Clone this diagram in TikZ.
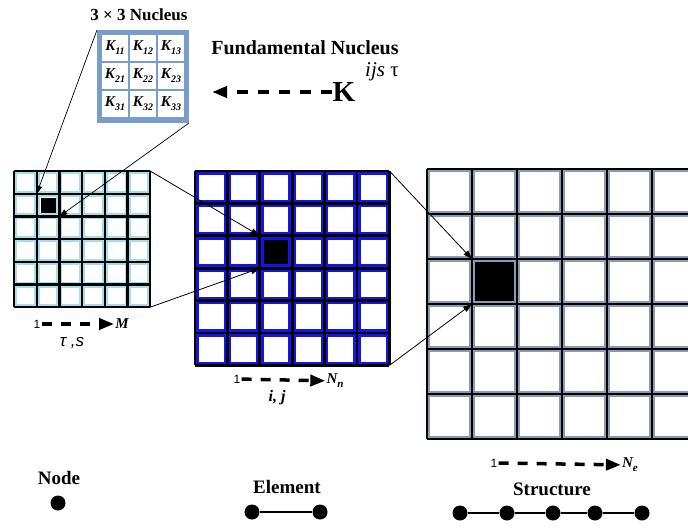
\documentclass[tikz,border=0pt]{standalone}
\usepackage{fontspec}
\setmainfont{Liberation Serif}
\newfontfamily\labelsans{Liberation Sans}
\usetikzlibrary{arrows.meta}

\definecolor{meshcyan}{HTML}{A6DDE9}
\definecolor{meshblue}{HTML}{1414E6}
\definecolor{meshgrey}{HTML}{8A9AB0}
\definecolor{nucblue}{HTML}{7A9CCB}

% 6x6 mesh: #1,#2 top left, #3 cell, #4 border colour, #5 inset, #6 line width
\newcommand{\meshgrid}[6]{%
  \foreach \i in {0,...,5}{
    \foreach \j in {0,...,5}{
      \fill[#4] ({#1+\i*#3},{#2+\j*#3}) rectangle ++(#3,#3);
      \fill[white] ({#1+\i*#3+#5},{#2+\j*#3+#5}) rectangle ({#1+(\i+1)*#3-#5},{#2+(\j+1)*#3-#5});
    }
  }
  \foreach \k in {0,...,6}{
    \draw[line width=#6] ({#1+\k*#3},#2) -- ({#1+\k*#3},{#2+6*#3});
    \draw[line width=#6] (#1,{#2+\k*#3}) -- ({#1+6*#3},{#2+\k*#3});
  }
}
\newcommand{\Kent}[1]{\textbf{\textit{K\raisebox{-4pt}{\fontsize{10}{10}\selectfont#1}}}}

\begin{document}
\begin{tikzpicture}[
    x=1pt, y=-1pt,
    title_style/.style={font=\bfseries\fontsize{19}{22}\selectfont, inner sep=1pt},
    kcell_style/.style={fill=white, minimum size=26pt, inner sep=0, font=\fontsize{15}{16}\selectfont},
    one_style/.style={font=\labelsans\fontsize{12}{14}\selectfont, inner sep=1pt},
    idx_style/.style={font=\bfseries\itshape\fontsize{15}{16}\selectfont, inner sep=1pt},
    spot_style/.style={inner sep=0, outer sep=0},
    dot_style/.style={circle, fill, inner sep=0, minimum size=15pt},
    dash_arrow/.style={line width=3.5pt, dash pattern=on 10pt off 9pt, -{Triangle[length=15pt,width=11pt]}},
    link_style/.style={line width=0.8pt, -{Triangle[length=9pt,width=6pt]}},
    bar_style/.style={line width=2.5pt}
  ]
  \useasboundingbox (0,0) rectangle (688,530);

  % nucleus
  \node[title_style, font=\bfseries\fontsize{17}{20}\selectfont] (nuctitle) at (139,15) {3 × 3 Nucleus};
  \node[fill=nucblue, minimum width=92pt, minimum height=93pt, inner sep=0, outer sep=0] (nuc) at (143,76.5) {};
  \foreach \r/\y in {1/48,2/76,3/104}{
    \foreach \c/\x in {1/115,2/143,3/171}{
      \node[kcell_style] (k\r\c) at (\x,\y) {\Kent{\r\c}};
    }
  }

  \node[title_style, font=\bfseries\fontsize{20}{24}\selectfont, inner sep=0] (fund) at (305,48) {Fundamental Nucleus};
  \node[font=\bfseries\fontsize{29}{32}\selectfont, inner sep=1pt] (Kbig) at (344,92) {K};
  \node[font=\fontsize{21}{24}\selectfont, inner sep=0] (Ksup) at (382,72) {\textit{ijs} τ};
  \coordinate (fundtip) at (212,92);
  \draw[dash_arrow, line width=4pt, dash pattern=on 11pt off 10pt] (Kbig) -- (fundtip);

  % meshes
  \meshgrid{14}{171}{22.7}{meshcyan}{3}{2.4}
  \meshgrid{195}{171}{32.4}{meshblue}{3.8}{2.8}
  \begin{scope}
    \clip (0,0) rectangle (688,530);
    \meshgrid{427}{169}{45}{meshgrey}{3.2}{2.8}
  \end{scope}

  % picked cells
  \fill ({14+22.7+3.8},{171+22.7+3.8}) rectangle ({14+2*22.7-3.8},{171+2*22.7-3.8});
  \fill ({195+2*32.4+3.8},{171+2*32.4+3.8}) rectangle ({195+3*32.4-3.8},{171+3*32.4-3.8});
  \fill ({427+45+3.2},{169+2*45+3.2}) rectangle ({427+2*45-3.2},{169+3*45-3.2});
  \node[spot_style, minimum size=22.7pt] (cellL) at (48.05,205.05) {};
  \node[spot_style, minimum size=32.4pt] (cellM) at (276,252) {};
  \node[spot_style, minimum size=45pt] (cellR) at (494.5,281.5) {};

  \coordinate (meshL-ne) at (150.2,171);
  \coordinate (meshL-se) at (150.2,307.2);
  \coordinate (meshM-ne) at (389.4,171);
  \coordinate (meshM-se) at (389.4,365.4);

  \draw[link_style, line width=0.7pt, -{Triangle[length=8pt,width=5.5pt]}] (nuc.north west) -- (cellL.north west);
  \draw[link_style, line width=0.7pt, -{Triangle[length=8pt,width=5.5pt]}] (nuc.south east) -- (cellL.south east);
  \draw[link_style] (meshL-ne) -- (cellM.north west);
  \draw[link_style] (meshL-se) -- (cellM.south west);
  \draw[link_style] (meshM-ne) -- (cellR.north west);
  \draw[link_style] (meshM-se) -- (cellR.south west);

  % index ranges
  \node[one_style] (oneL) at (37,324) {1};
  \node[idx_style] (ML) at (122,324) {M};
  \draw[dash_arrow] (oneL) -- (ML);
  \node[font=\labelsans\itshape\fontsize{17}{20}\selectfont] (tsL) at (72,343) {τ ,s};

  \node[one_style] (oneM) at (237,379) {1};
  \node[idx_style] (NnM) at (335,381) {N\raisebox{-4pt}{\fontsize{11}{11}\selectfont n}};
  \draw[dash_arrow] (oneM) -- (NnM);
  \node[idx_style, font=\bfseries\itshape\fontsize{16}{18}\selectfont] (ijM) at (277,398) {i, j};

  \node[one_style] (oneR) at (494,463) {1};
  \node[idx_style] (NeR) at (630,465) {N\raisebox{-4pt}{\fontsize{11}{11}\selectfont e}};
  \draw[dash_arrow] (oneR) -- (NeR);

  % legend
  \node[title_style] (nodeT) at (59,478) {Node};
  \node[dot_style] (n0) at (58,503) {};

  \node[title_style] (elemT) at (287,487) {Element};
  \node[dot_style] (e1) at (252,512) {};
  \node[dot_style] (e2) at (320,512) {};
  \draw[bar_style] (e1) -- (e2);

  \node[title_style] (strucT) at (552,489) {Structure};
  \foreach \n/\x in {1/460,2/507,3/553,4/595,5/642}{
    \node[dot_style] (s\n) at (\x,513) {};
  }
  \draw[bar_style] (s1) -- (s2) -- (s3) -- (s4) -- (s5);
\end{tikzpicture}
\end{document}
